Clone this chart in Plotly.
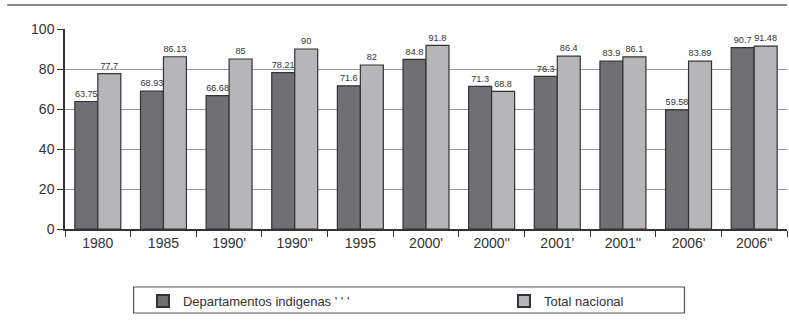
import plotly.graph_objects as go

# Categories and series values
years = ["1980", "1985", "1990'", "1990''", "1995", "2000'", "2000''",
         "2001'", "2001''", "2006'", "2006''"]
departamentos = [63.75, 68.93, 66.68, 78.21, 71.6, 84.8, 71.3, 76.3, 83.9, 59.58, 90.7]
total_nacional = [77.7, 86.13, 85, 90, 82, 91.8, 68.8, 86.4, 86.1, 83.89, 91.48]
y_ticks = [0, 20, 40, 60, 80, 100]

base_font = "Liberation Sans, Arial, sans-serif"
label_font = dict(family=base_font, size=10.5, color="#333")

fig = go.Figure()
fig.add_trace(go.Bar(
    x=years, y=departamentos, name="Departamentos indigenas ' ' '",
    marker=dict(color="#707074", line=dict(color="#333", width=1.2)),
    text=[f"{v:g}" for v in departamentos], textposition="outside",
    textfont=label_font, cliponaxis=False,
))
fig.add_trace(go.Bar(
    x=years, y=total_nacional, name="Total nacional",
    marker=dict(color="#b6b6b8", line=dict(color="#333", width=1.2)),
    text=[f"{v:g}" for v in total_nacional], textposition="outside",
    textfont=label_font, cliponaxis=False,
))

fig.update_layout(
    width=789, height=322,
    margin=dict(l=65, r=2, t=29, b=93, autoexpand=False),
    paper_bgcolor="white", plot_bgcolor="white",
    barmode="group", bargap=0.3, bargroupgap=0,
    uniformtext=dict(minsize=8, mode="show"),
    font=dict(family=base_font, size=14, color="#333"),
    showlegend=True,
    legend=dict(orientation="h", x=0.108, y=-0.285, xanchor="left", yanchor="top",
                entrywidth=316, entrywidthmode="pixels",
                font=dict(size=13, color="#333"), bgcolor="rgba(0,0,0,0)",
                itemsizing="constant"),
    xaxis=dict(type="category", tickson="boundaries", ticks="outside", ticklen=6,
               tickcolor="#333", showline=True, linecolor="#333", linewidth=1.5,
               showgrid=False, tickfont=dict(size=14)),
    yaxis=dict(range=[0, 100], tickvals=y_ticks, ticks="outside", ticklen=6,
               tickcolor="#333", showline=True, linecolor="#333", linewidth=1.5,
               showgrid=True, gridcolor="#9a9a9a", gridwidth=1, zeroline=False,
               tickfont=dict(size=14)),
    shapes=[
        # rule above the chart
        dict(type="line", xref="paper", yref="paper", x0=-0.08, x1=1.0,
             y0=1.12, y1=1.12, line=dict(color="#888", width=2)),
        # frame around the legend
        dict(type="rect", xref="paper", yref="paper", x0=0.095, x1=0.858,
             y0=-0.29, y1=-0.42, line=dict(color="#555", width=1.2)),
    ],
)

fig.write_html("out.html")
